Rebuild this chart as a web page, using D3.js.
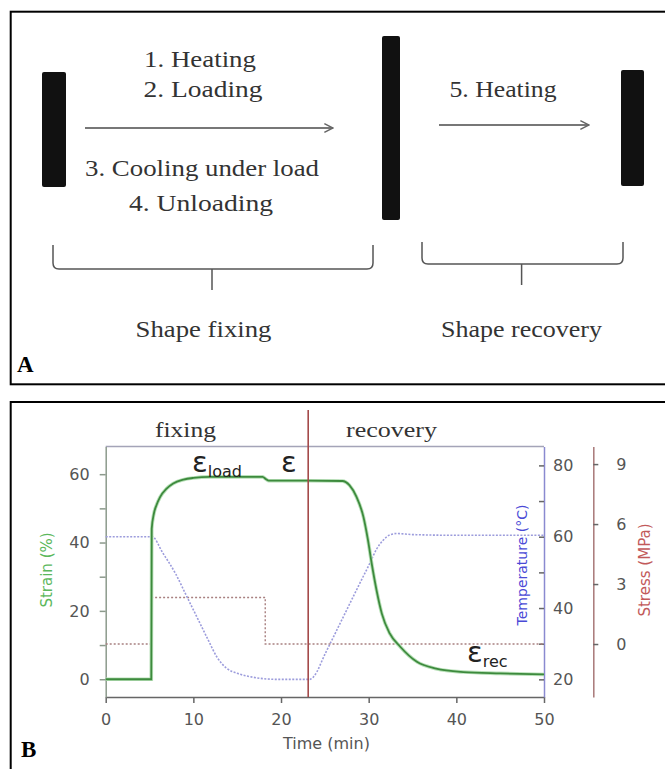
<!DOCTYPE html>
<html>
<head>
<meta charset="utf-8">
<script src="https://cdn.jsdelivr.net/npm/d3@7"></script>
<style>
  html, body { margin: 0; padding: 0; background: #fff; }
  svg { display: block; }
</style>
</head>
<body>
<div id="chart"></div>
<script>
const WIDTH = 665;
const HEIGHT = 769;

// Panel A: process steps
const fixingSteps = ['1. Heating', '2. Loading', '3. Cooling under load', '4. Unloading'];
const recoverySteps = ['5. Heating'];
const phaseNames = ['Shape fixing', 'Shape recovery'];

// Panel B: time series
const strainTime = [0, 5.2, 5.25, 5.5, 5.8, 6.2, 6.95, 7.7, 8.85, 10, 11.9, 17.9, 18.3, 18.6, 23, 27, 27.8, 28.6, 29.4, 29.9, 30.4, 30.9, 31.5, 32.4, 33.6, 35.5, 37.7, 40.8, 45, 50];
const strain = [0, 0, 44, 48.5, 51, 53.3, 55.8, 57.3, 58.4, 58.9, 59.2, 59.2, 58.5, 58.1, 58.1, 58.0, 56.8, 53.4, 47.5, 41, 33, 26, 19.2, 13.4, 9.5, 5.1, 3.1, 2.1, 1.7, 1.4];

const tempTime = [0, 5.3, 6.5, 8, 9.2, 10.5, 11.7, 12.7, 13.8, 15, 16.8, 19.5, 23.3, 23.8, 25, 26, 27, 28, 29, 30.1, 30.9, 31.65, 32.4, 33.2, 35, 40, 50];
const temperature = [60, 60, 55.5, 49.5, 43.5, 37, 31, 26.2, 23.1, 21.7, 20.6, 20, 20, 21, 27, 32, 37, 42, 47, 52.4, 56.5, 59, 60.5, 60.9, 60.6, 60.4, 60.4];

const stressTime = [0, 5.2, 18.2, 50];
const stress = [0, 2.33, 0, 0];

const switchTime = 23.1;
const timeTicks = [0, 10, 20, 30, 40, 50];
const strainTicks = [0, 10, 20, 30, 40, 50, 60];
const tempTicks = [20, 30, 40, 50, 60, 70, 80];
const stressTicks = [0, 3, 6, 9];

const svg = d3.select('#chart').append('svg')
  .attr('width', WIDTH)
  .attr('height', HEIGHT);

// ---------- Panel A ----------
const serif = "'Liberation Serif', 'Times New Roman', serif";
const sans = "'DejaVu Sans', Arial, sans-serif";

svg.append('rect')
  .attr('x', 10.7).attr('y', 11.7)
  .attr('width', 670).attr('height', 372.6)
  .attr('fill', 'none').attr('stroke', '#000').attr('stroke-width', 2);

const bars = [
  { x: 42, y: 72, w: 24, h: 115 },
  { x: 382, y: 36, w: 18, h: 184 },
  { x: 621, y: 70, w: 23, h: 116 }
];
svg.selectAll('rect.bar').data(bars).enter().append('rect')
  .attr('class', 'bar')
  .attr('x', d => d.x).attr('y', d => d.y)
  .attr('width', d => d.w).attr('height', d => d.h)
  .attr('rx', 2)
  .attr('fill', '#111');

svg.append('defs').append('marker')
  .attr('id', 'arrow')
  .attr('viewBox', '0 0 10 10')
  .attr('refX', 9).attr('refY', 5)
  .attr('markerWidth', 6).attr('markerHeight', 6)
  .attr('orient', 'auto')
  .append('path')
  .attr('d', 'M1,1 L9,5 L1,9')
  .attr('fill', 'none')
  .attr('stroke', '#666')
  .attr('stroke-width', 1.4);

const arrows = [
  { x1: 85, x2: 333, y: 128 },
  { x1: 439, x2: 589, y: 125 }
];
svg.selectAll('line.arrow').data(arrows).enter().append('line')
  .attr('class', 'arrow')
  .attr('x1', d => d.x1).attr('x2', d => d.x2)
  .attr('y1', d => d.y).attr('y2', d => d.y)
  .attr('stroke', '#777').attr('stroke-width', 1.8)
  .attr('marker-end', 'url(#arrow)');

// step labels: [text, centre x, baseline, width]
const stepLayout = [
  [fixingSteps[0], 200, 67, 112],
  [fixingSteps[1], 203, 97, 119],
  [fixingSteps[2], 202, 176, 234],
  [fixingSteps[3], 201, 211, 144],
  [recoverySteps[0], 503, 97, 107],
  [phaseNames[0], 203.5, 337, 136],
  [phaseNames[1], 521.5, 337, 161]
];
svg.selectAll('text.step').data(stepLayout).enter().append('text')
  .attr('class', 'step')
  .attr('x', d => d[1] - d[3] / 2)
  .attr('y', d => d[2])
  .attr('textLength', d => d[3])
  .attr('lengthAdjust', 'spacingAndGlyphs')
  .style('font-family', serif)
  .style('font-size', '23px')
  .style('fill', '#333')
  .text(d => d[0]);

function brace(x0, x1, yTop, yMid, yTip, xc) {
  const r = 6;
  return `M${x0},${yTop} V${yMid - r} Q${x0},${yMid} ${x0 + r},${yMid} H${x1 - r} ` +
    `Q${x1},${yMid} ${x1},${yMid - r} V${yTop} M${xc},${yMid} V${yTip}`;
}
svg.append('path')
  .attr('d', brace(53, 373, 245, 269, 290, 212))
  .attr('fill', 'none').attr('stroke', '#555').attr('stroke-width', 1.5);
svg.append('path')
  .attr('d', brace(422, 623, 242, 264, 285, 521.6))
  .attr('fill', 'none').attr('stroke', '#555').attr('stroke-width', 1.5);

svg.append('text')
  .attr('x', 17).attr('y', 372)
  .style('font-family', serif).style('font-weight', 'bold')
  .style('font-size', '23px')
  .text('A');

// ---------- Panel B ----------
svg.append('rect')
  .attr('x', 10.7).attr('y', 402)
  .attr('width', 670).attr('height', 380)
  .attr('fill', 'none').attr('stroke', '#000').attr('stroke-width', 2);

svg.append('text')
  .attr('x', 21).attr('y', 757)
  .style('font-family', serif).style('font-weight', 'bold')
  .style('font-size', '23px')
  .text('B');

const plotTop = 446.5;
const plotBottom = 697;

const x = d3.scaleLinear().domain([0, 50]).range([105.7, 544]);
const yStrain = d3.scaleLinear().domain([-5.2, 68.1]).range([plotBottom, plotTop]);
const yTemp = d3.scaleLinear().domain([15.05, 85.3]).range([plotBottom, plotTop]);
const yStress = d3.scaleLinear().domain([-2.65, 9.88]).range([plotBottom, plotTop]);

// top frame line
svg.append('line')
  .attr('x1', x(0)).attr('x2', x(50))
  .attr('y1', plotTop).attr('y2', plotTop)
  .attr('stroke', '#a4a4b8').attr('stroke-width', 1.5);

function styleAxis(g, lineColor, textColor) {
  g.selectAll('path.domain').attr('stroke', lineColor).attr('stroke-width', 1.5);
  g.selectAll('.tick line').attr('stroke', lineColor).attr('stroke-width', 1.5);
  g.selectAll('.tick text')
    .style('font-family', sans)
    .style('font-size', '16px')
    .attr('fill', textColor);
}

// x axis
const xAxis = svg.append('g')
  .attr('transform', `translate(0,${plotBottom})`)
  .call(d3.axisBottom(x).tickValues(timeTicks).tickSize(6).tickSizeOuter(0).tickPadding(11));
styleAxis(xAxis, '#666', '#555');

// strain axis (left)
const sAxis = svg.append('g')
  .attr('transform', `translate(${x(0)},0)`)
  .call(d3.axisLeft(yStrain).tickValues(strainTicks)
    .tickFormat(d => d % 20 === 0 ? d : '')
    .tickSize(6).tickSizeOuter(0).tickPadding(10));
styleAxis(sAxis, '#8c9a8c', '#555');

// temperature axis (right of plot)
const tAxis = svg.append('g')
  .attr('transform', `translate(${x(50)},0)`)
  .call(d3.axisRight(yTemp).tickValues(tempTicks)
    .tickFormat(d => d % 20 === 0 ? d : '')
    .tickSizeInner(-5).tickSizeOuter(0).tickPadding(9));
styleAxis(tAxis, '#8a8ad0', '#555');
tAxis.selectAll('.tick line').attr('stroke', '#666');

// stress axis (far right)
const pAxis = svg.append('g')
  .attr('transform', 'translate(593.3,0)')
  .call(d3.axisRight(yStress).tickValues(stressTicks)
    .tickSize(5).tickSizeOuter(0).tickPadding(18));
styleAxis(pAxis, '#a87878', '#555');
pAxis.selectAll('.tick line').attr('stroke', '#666');

// axis titles
svg.append('text')
  .attr('transform', 'translate(52,570) rotate(-90)')
  .attr('text-anchor', 'middle')
  .style('font-family', sans).style('font-size', '15px')
  .attr('fill', '#5cb85c')
  .text('Strain (%)');

svg.append('text')
  .attr('transform', 'translate(527,565) rotate(-90)')
  .attr('text-anchor', 'middle')
  .style('font-family', sans).style('font-size', '14px')
  .attr('fill', '#4a4ad6')
  .text('Temperature (°C)');

svg.append('text')
  .attr('transform', 'translate(650,570) rotate(-90)')
  .attr('text-anchor', 'middle')
  .style('font-family', sans).style('font-size', '15px')
  .attr('fill', '#c25a5a')
  .text('Stress (MPa)');

svg.append('text')
  .attr('x', 326.5).attr('y', 749)
  .attr('text-anchor', 'middle')
  .style('font-family', sans).style('font-size', '16px')
  .attr('fill', '#555')
  .text('Time (min)');

// phase labels
svg.append('text')
  .attr('x', 155).attr('y', 437)
  .attr('textLength', 61).attr('lengthAdjust', 'spacingAndGlyphs')
  .style('font-family', serif).style('font-size', '20px')
  .attr('fill', '#333')
  .text('fixing');
svg.append('text')
  .attr('x', 346).attr('y', 437)
  .attr('textLength', 91).attr('lengthAdjust', 'spacingAndGlyphs')
  .style('font-family', serif).style('font-size', '20px')
  .attr('fill', '#333')
  .text('recovery');

// stress step line
const stressLine = d3.line()
  .x((d, i) => x(stressTime[i]))
  .y(d => yStress(d))
  .curve(d3.curveStepAfter);
svg.append('path')
  .attr('d', stressLine(stress))
  .attr('fill', 'none')
  .attr('stroke', '#a88080')
  .attr('stroke-width', 1.4)
  .attr('stroke-dasharray', '2,2');

// temperature line
const tempLine = d3.line()
  .x((d, i) => x(tempTime[i]))
  .y(d => yTemp(d))
  .curve(d3.curveMonotoneX);
svg.append('path')
  .attr('d', tempLine(temperature))
  .attr('fill', 'none')
  .attr('stroke', '#9c9cdc')
  .attr('stroke-width', 1.6)
  .attr('stroke-dasharray', '2,1.5');

// strain line
const strainLine = d3.line()
  .x((d, i) => x(strainTime[i]))
  .y(d => yStrain(d))
  .curve(d3.curveMonotoneX);
svg.append('path')
  .attr('d', strainLine(strain))
  .attr('fill', 'none')
  .attr('stroke', '#b8e0b8')
  .attr('stroke-width', 3.6);
svg.append('path')
  .attr('d', strainLine(strain))
  .attr('fill', 'none')
  .attr('stroke', '#3d8a3d')
  .attr('stroke-width', 1.8);

// fixing / recovery divider
svg.append('line')
  .attr('x1', x(switchTime)).attr('x2', x(switchTime))
  .attr('y1', 410).attr('y2', plotBottom)
  .attr('stroke', '#a44a4a').attr('stroke-width', 1.6);

// strain annotations
function epsLabel(xPos, yPos, sub) {
  const t = svg.append('text')
    .attr('x', xPos).attr('y', yPos)
    .style('font-family', sans)
    .attr('fill', '#222');
  t.append('tspan').style('font-size', '29px').text('ε');
  if (sub) {
    t.append('tspan').attr('dy', 5).style('font-size', '16px').text(sub);
  }
}
epsLabel(192, 472, 'load');
epsLabel(281, 472, null);
epsLabel(467, 662, 'rec');
</script>
</body>
</html>
